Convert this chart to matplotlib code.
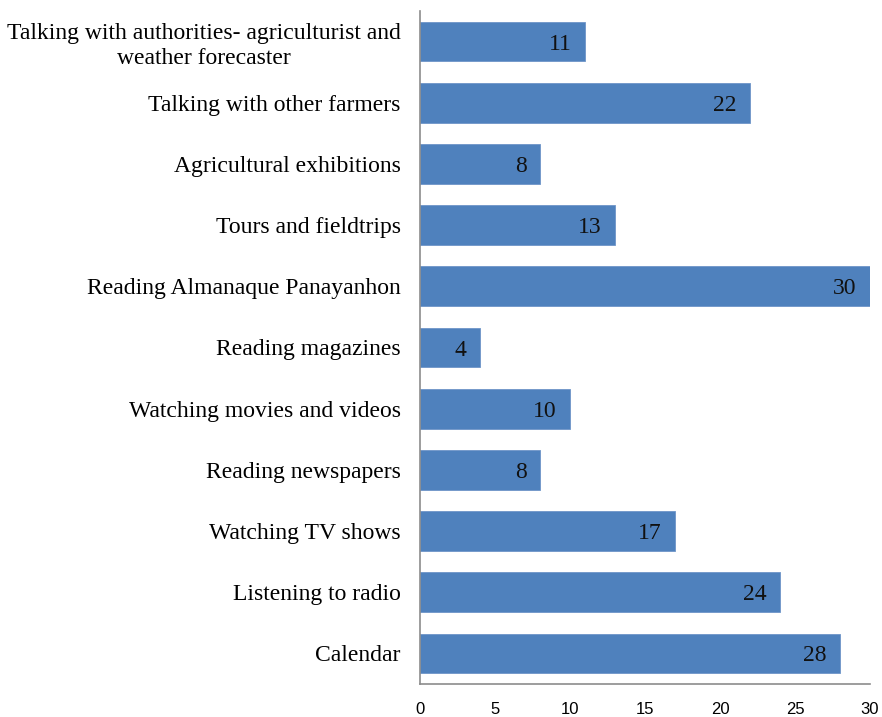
import matplotlib
matplotlib.use("Agg")
import matplotlib.pyplot as plt

categories = [
    "Talking with authorities- agriculturist and\nweather forecaster",
    "Talking with other farmers",
    "Agricultural exhibitions",
    "Tours and fieldtrips",
    "Reading Almanaque Panayanhon",
    "Reading magazines",
    "Watching movies and videos",
    "Reading newspapers",
    "Watching TV shows",
    "Listening to radio",
    "Calendar",
]
values = [11, 22, 8, 13, 30, 4, 10, 8, 17, 24, 28]
xticks = [0, 5, 10, 15, 20, 25, 30]

fig = plt.figure(figsize=(8.82, 7.17), dpi=100)
ax = fig.add_axes([420/882, 1-684/717, 450/882, 673/717])

pos = list(range(len(categories)))
bars = ax.barh(pos, values, height=0.65, color="#4F81BD", edgecolor="#6E95C8", linewidth=0.6)
ax.set_ylim(len(categories)-0.5, -0.5)
ax.set_xlim(0, 30)
ax.set_yticks(pos)
ax.set_yticklabels(categories, fontfamily="Liberation Serif", fontsize=17,
                   multialignment="center", linespacing=1.25)
ax.set_xticks(xticks)
ax.set_xticklabels([str(t) for t in xticks], fontfamily="Liberation Sans", fontsize=12)
ax.tick_params(axis="y", length=0, pad=14)
ax.tick_params(axis="x", length=0, pad=13)
for s in ["top", "right"]:
    ax.spines[s].set_visible(False)
for s in ["left", "bottom"]:
    ax.spines[s].set_color("#8C8C8C")
    ax.spines[s].set_linewidth(1.2)

for b, v in zip(bars, values):
    ax.annotate(str(v), xy=(v, b.get_y()+b.get_height()/2), xytext=(-9.5, 0),
                textcoords="offset points", ha="right", va="center_baseline",
                fontfamily="Liberation Serif", fontsize=17, color="#111111")

fig.savefig("out.png", dpi=100)
